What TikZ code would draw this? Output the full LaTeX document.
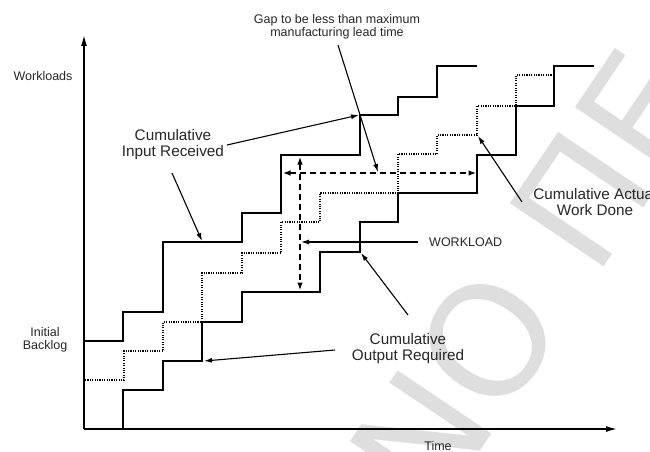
\documentclass[tikz,border=0pt]{standalone}
\usepackage{fontspec}
\setmainfont{Liberation Sans}
\newfontfamily\markfont{DejaVu Sans}
\usetikzlibrary{arrows.meta}

\begin{document}
\begin{tikzpicture}[x=1pt,y=-1pt,
  axisline/.style={line width=1.4pt, -{Latex[length=11pt,width=6pt]}},
  solidstep/.style={line width=2.4pt, line join=miter},
  dotstep/.style={line width=2pt, dash pattern=on 1.1pt off 1.3pt},
  gaparrow/.style={line width=1.8pt, dash pattern=on 6pt off 4pt,
    {Latex[length=8pt,width=5.5pt]}-{Latex[length=8pt,width=5.5pt]}},
  pointer/.style={line width=1.1pt, -{Latex[length=8pt,width=5pt]}},
  biglabel/.style={font=\fontsize{15.3}{16}\selectfont, align=center,
    text=black!85, inner sep=0pt},
  smalllabel/.style={font=\fontsize{12.5}{13}\selectfont, align=center,
    text=black!85, inner sep=0pt},
  wmark/.style={font=\markfont\fontsize{155}{155}\selectfont,
    text=black!13, inner sep=0pt, rotate=56}
]
\clip (0,0) rectangle (650,452);

% faint background lettering, one glyph per node
\node[wmark] (wmN) at (421,438) {Ν};
\node[wmark] (wmO) at (488,340) {Ο};
\node[wmark] (wmP) at (581,200) {Π};
\node[wmark] (wmE) at (641,111) {Ε};

% axes
\coordinate (origin) at (84,429);
\coordinate (ytip) at (84,35);
\coordinate (xtip) at (617,429);
\draw[axisline] (origin) -- (ytip);
\draw[axisline] (origin) -- (xtip);

% cumulative input received
\draw[solidstep] (84,341) -- (123,341) -- (123,312) -- (163,312) -- (163,242)
  -- (242,242) -- (242,213) -- (281,213) -- (281,155) -- (360,155) -- (360,115)
  -- (398,115) -- (398,97) -- (437,97) -- (437,66) -- (477,66);

% cumulative output required
\draw[solidstep] (123,429) -- (123,390) -- (163,390) -- (163,361) -- (202,361)
  -- (202,322) -- (242,322) -- (242,292) -- (320,292) -- (320,252) -- (360,252)
  -- (360,222) -- (398,222) -- (398,193) -- (477,193) -- (477,155) -- (516,155)
  -- (516,106) -- (554,106) -- (554,66) -- (594,66);

% cumulative actual work done
\draw[dotstep] (85,380) -- (124,380) -- (124,351) -- (163,351) -- (163,322)
  -- (202,322) -- (202,273) -- (242,273) -- (242,253) -- (281,253) -- (281,222)
  -- (320,222) -- (320,193) -- (398,193) -- (398,154) -- (437,154) -- (437,135)
  -- (477,135) -- (477,106) -- (516,106) -- (516,75) -- (554,75);

% gap and workload spans
\coordinate (gapL) at (282.5,173);
\coordinate (gapR) at (476.5,173);
\coordinate (wlT) at (300,156.5);
\coordinate (wlB) at (300,290.5);
\draw[gaparrow] (gapL) -- (gapR);
\draw[gaparrow] (wlT) -- (wlB);

% labels
\node[smalllabel] (workloads) at (43,76) {Workloads};
\node[smalllabel] (backlog) at (45,340) {Initial\\Backlog};
\node[smalllabel] (time) at (438,446) {Time};
\node[smalllabel] (gap) at (337,27) {Gap to be less than maximum\\manufacturing lead time};
\node[biglabel] (inlbl) at (173,145) {Cumulative\\Input Received};
\node[smalllabel, anchor=west] (wl) at (429,242) {WORKLOAD};
\node[biglabel] (outlbl) at (408,349) {Cumulative\\Output Required};
\node[biglabel] (actlbl) at (595,202) {Cumulative Actual\\Work Done};

% pointers
\coordinate (gapS) at (338,45);   \coordinate (gapE) at (378,172);
\coordinate (in1S) at (227,145);  \coordinate (in1E) at (359,115);
\coordinate (in2S) at (172,173);  \coordinate (in2E) at (202,241);
\coordinate (out1S) at (335,350); \coordinate (out1E) at (204,361);
\coordinate (out2S) at (408,315); \coordinate (out2E) at (361,253);
\coordinate (actS) at (522,202);  \coordinate (actE) at (478,136);
\coordinate (wlS) at (418,242);   \coordinate (wlE) at (301,242);
\draw[pointer] (gapS) -- (gapE);
\draw[pointer] (in1S) -- (in1E);
\draw[pointer] (in2S) -- (in2E);
\draw[pointer] (out1S) -- (out1E);
\draw[pointer] (out2S) -- (out2E);
\draw[pointer] (actS) -- (actE);
\draw[pointer] (wlS) -- (wlE);
\end{tikzpicture}
\end{document}
